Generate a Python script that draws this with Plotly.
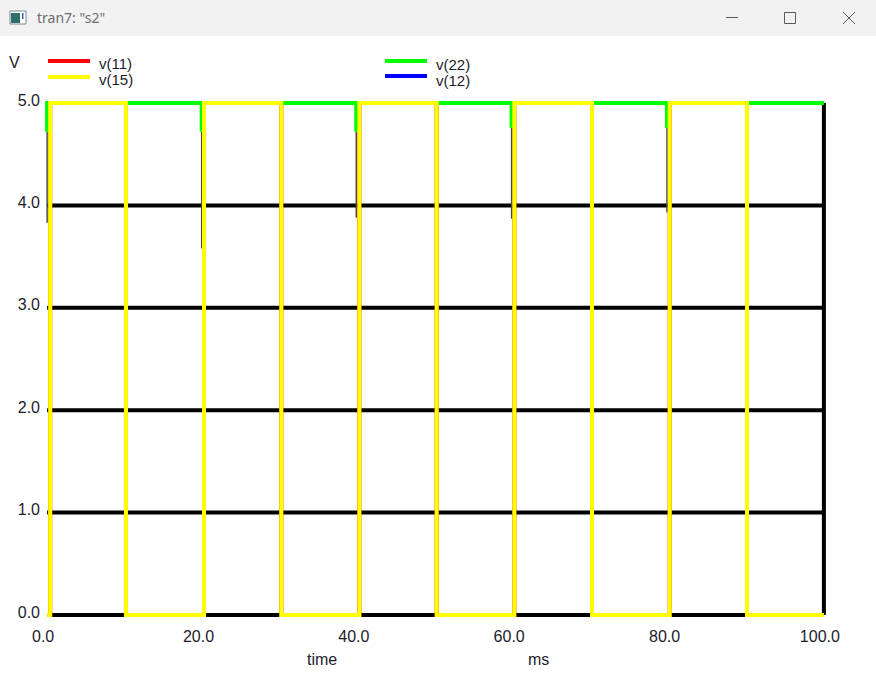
import plotly.graph_objects as go
import numpy as np

# ---------------- data ----------------
# v(15): square wave, edge times (ms) and level after each edge (V)
v15_edges = [0.0, 0.4, 10.15, 20.2, 30.15, 40.2, 50.15, 60.15, 70.15, 80.15, 90.1, 100.0]
v15_levels = [0.0, 5.0, 0.0, 5.0, 0.0, 5.0, 0.0, 5.0, 0.0, 5.0, 0.0, 0.0]

# v(11): same switching node (hidden below v(15) in the reference)
v11_edges = v15_edges
v11_levels = v15_levels

# v(22): 5 V rail with short dips near each rising edge
v22_level = 5.0
v22_dip_times = [0.0, 19.9, 39.8, 59.8, 79.8]
v22_dip_min = [3.83, 3.58, 3.88, 3.87, 3.93]
v22_dip_green = [4.72, 4.72, 4.72, 4.76, 4.76]   # part of the dip drawn in the trace colour

# v(12): 5 V (hidden below v(22))
v12_times = [0.0, 100.0]
v12_values = [5.0, 5.0]

series_names = ["v(11)", "v(15)", "v(22)", "v(12)"]
series_colors = ["#ff0000", "#ffff00", "#00ff00", "#0000ff"]

y_ticks = [0, 1, 2, 3, 4, 5]
y_tick_text = ["0.0", "1.0", "2.0", "3.0", "4.0", "5.0"]
x_ticks = [0, 20, 40, 60, 80, 100]
x_tick_text = ["0.0", "20.0", "40.0", "60.0", "80.0", "100.0"]
x_title, x_unit, y_unit = "time", "ms", "V"
window_title = 'tran7: "s2"'

# ---------------- layout geometry ----------------
W, H = 876, 677
L, R, T, B = 44, 49, 99, 58
PW, PH = W - L - R, H - T - B


def px_x(px):
    return (px - L) / PW


def px_y(py):
    return (H - B - py) / PH


TXT = "#1c1c2c"
FONT = "Liberation Sans, Arial, sans-serif"

fig = go.Figure()

# hidden series first (drawn underneath)
fig.add_trace(go.Scatter(x=v11_edges, y=v11_levels, mode="lines", line_shape="hv",
                         line=dict(color=series_colors[0], width=4), name=series_names[0],
                         showlegend=False, hoverinfo="skip"))
fig.add_trace(go.Scatter(x=v12_times, y=v12_values, mode="lines",
                         line=dict(color=series_colors[3], width=4), name=series_names[3],
                         showlegend=False, hoverinfo="skip"))

# v(22) dips: thin dark part
dx, dy = [], []
for t, g, m in zip(v22_dip_times, v22_dip_green, v22_dip_min):
    dx += [t, t, None]
    dy += [g, m, None]
fig.add_trace(go.Scatter(x=dx, y=dy, mode="lines", line=dict(color="#4a4a4a", width=1.5),
                         showlegend=False, hoverinfo="skip", connectgaps=False))

# v(22) main (green)
gx, gy = [0.0], [v22_level]
for t, g in zip(v22_dip_times, v22_dip_green):
    gx += [t, t, t]
    gy += [v22_level, g, v22_level]
gx.append(100.0)
gy.append(v22_level)
order = np.argsort(np.array(gx), kind="stable")
gx = [gx[i] for i in order]
gy = [gy[i] for i in order]
fig.add_trace(go.Scatter(x=gx, y=gy, mode="lines", line=dict(color=series_colors[2], width=4),
                         name=series_names[2], showlegend=False, hoverinfo="skip"))

# v(15) on top
fig.add_trace(go.Scatter(x=v15_edges, y=v15_levels, mode="lines", line_shape="hv",
                         line=dict(color=series_colors[1], width=4), name=series_names[1],
                         showlegend=False, hoverinfo="skip"))

shapes = []
# horizontal grid lines and right frame
for yv in y_ticks[:-1]:
    shapes.append(dict(type="line", xref="x", yref="y", x0=x_ticks[0], x1=x_ticks[-1], y0=yv, y1=yv,
                       line=dict(color="black", width=4), layer="below"))
shapes.append(dict(type="line", xref="x", yref="y", x0=x_ticks[-1], x1=x_ticks[-1],
                   y0=y_ticks[0], y1=y_ticks[-1], line=dict(color="black", width=4), layer="below"))

# window title bar
shapes.append(dict(type="rect", xref="paper", yref="paper", x0=px_x(0), x1=px_x(W), y0=px_y(36), y1=px_y(0),
                   fillcolor="#f2f2f2", line=dict(width=0), layer="below"))
# icon
shapes.append(dict(type="rect", xref="paper", yref="paper", x0=px_x(10), x1=px_x(26), y0=px_y(24), y1=px_y(11),
                   fillcolor="#ffffff", line=dict(color="#7a8a90", width=1)))
shapes.append(dict(type="rect", xref="paper", yref="paper", x0=px_x(11), x1=px_x(20), y0=px_y(23), y1=px_y(13),
                   fillcolor="#2f6f6a", line=dict(width=0)))
shapes.append(dict(type="rect", xref="paper", yref="paper", x0=px_x(22), x1=px_x(23.5), y0=px_y(19), y1=px_y(13),
                   fillcolor="#3a5fb0", line=dict(width=0)))
# window controls
ctl = dict(color="#5a5a5a", width=1)
shapes.append(dict(type="line", xref="paper", yref="paper", x0=px_x(726), x1=px_x(738), y0=px_y(17.5), y1=px_y(17.5), line=ctl))
shapes.append(dict(type="rect", xref="paper", yref="paper", x0=px_x(784.5), x1=px_x(795.5), y0=px_y(23.5), y1=px_y(12.5), line=ctl))
shapes.append(dict(type="line", xref="paper", yref="paper", x0=px_x(843), x1=px_x(855), y0=px_y(24), y1=px_y(12), line=ctl))
shapes.append(dict(type="line", xref="paper", yref="paper", x0=px_x(843), x1=px_x(855), y0=px_y(12), y1=px_y(24), line=ctl))

# manual legend: line samples
legend_pos = [(48, 61, 97, 63.5), (48, 77, 97, 79.5), (385, 61, 434, 64.5), (385, 76, 434, 80.5)]
for (lx, ly, tx, ty), c in zip(legend_pos, series_colors):
    shapes.append(dict(type="line", xref="paper", yref="paper", x0=px_x(lx), x1=px_x(lx + 42),
                       y0=px_y(ly), y1=px_y(ly), line=dict(color=c, width=4)))

annotations = []
for (lx, ly, tx, ty), name in zip(legend_pos, series_names):
    annotations.append(dict(x=px_x(tx), y=px_y(ty), xref="paper", yref="paper", text=name, showarrow=False,
                            xanchor="left", yanchor="middle", font=dict(family=FONT, size=15, color=TXT)))
annotations.append(dict(x=px_x(14.5), y=px_y(62.5), xref="paper", yref="paper", text=y_unit, showarrow=False,
                        xanchor="center", yanchor="middle", font=dict(family=FONT, size=16, color=TXT)))
annotations.append(dict(x=px_x(322), y=px_y(659), xref="paper", yref="paper", text=x_title, showarrow=False,
                        xanchor="center", yanchor="middle", font=dict(family=FONT, size=16, color=TXT)))
annotations.append(dict(x=px_x(538), y=px_y(659), xref="paper", yref="paper", text=x_unit, showarrow=False,
                        xanchor="center", yanchor="middle", font=dict(family=FONT, size=16, color=TXT)))
annotations.append(dict(x=px_x(35), y=px_y(17.5), xref="paper", yref="paper", text=window_title, showarrow=False,
                        xanchor="left", yanchor="middle",
                        font=dict(family="Noto Sans, Open Sans, sans-serif", size=14, color="#6e6e6e")))

fig.update_layout(
    width=W, height=H,
    margin=dict(l=L, r=R, t=T, b=B, pad=0),
    paper_bgcolor="white", plot_bgcolor="white",
    showlegend=False,
    shapes=shapes, annotations=annotations,
    xaxis=dict(range=[-0.4, 100.4], tickvals=x_ticks, ticktext=x_tick_text, showgrid=False,
               zeroline=False, showline=False, ticks="", ticklabelshift=-4, ticklabelstandoff=6,
               tickfont=dict(family=FONT, size=16, color=TXT), fixedrange=True),
    yaxis=dict(range=[-0.04, 5.04], tickvals=y_ticks, ticktext=y_tick_text, showgrid=False,
               zeroline=False, showline=False, ticks="", ticklabelshift=-3, ticklabelstandoff=3,
               tickfont=dict(family=FONT, size=16, color=TXT), fixedrange=True),
)

fig.write_html("out.html", config={"displayModeBar": False})
